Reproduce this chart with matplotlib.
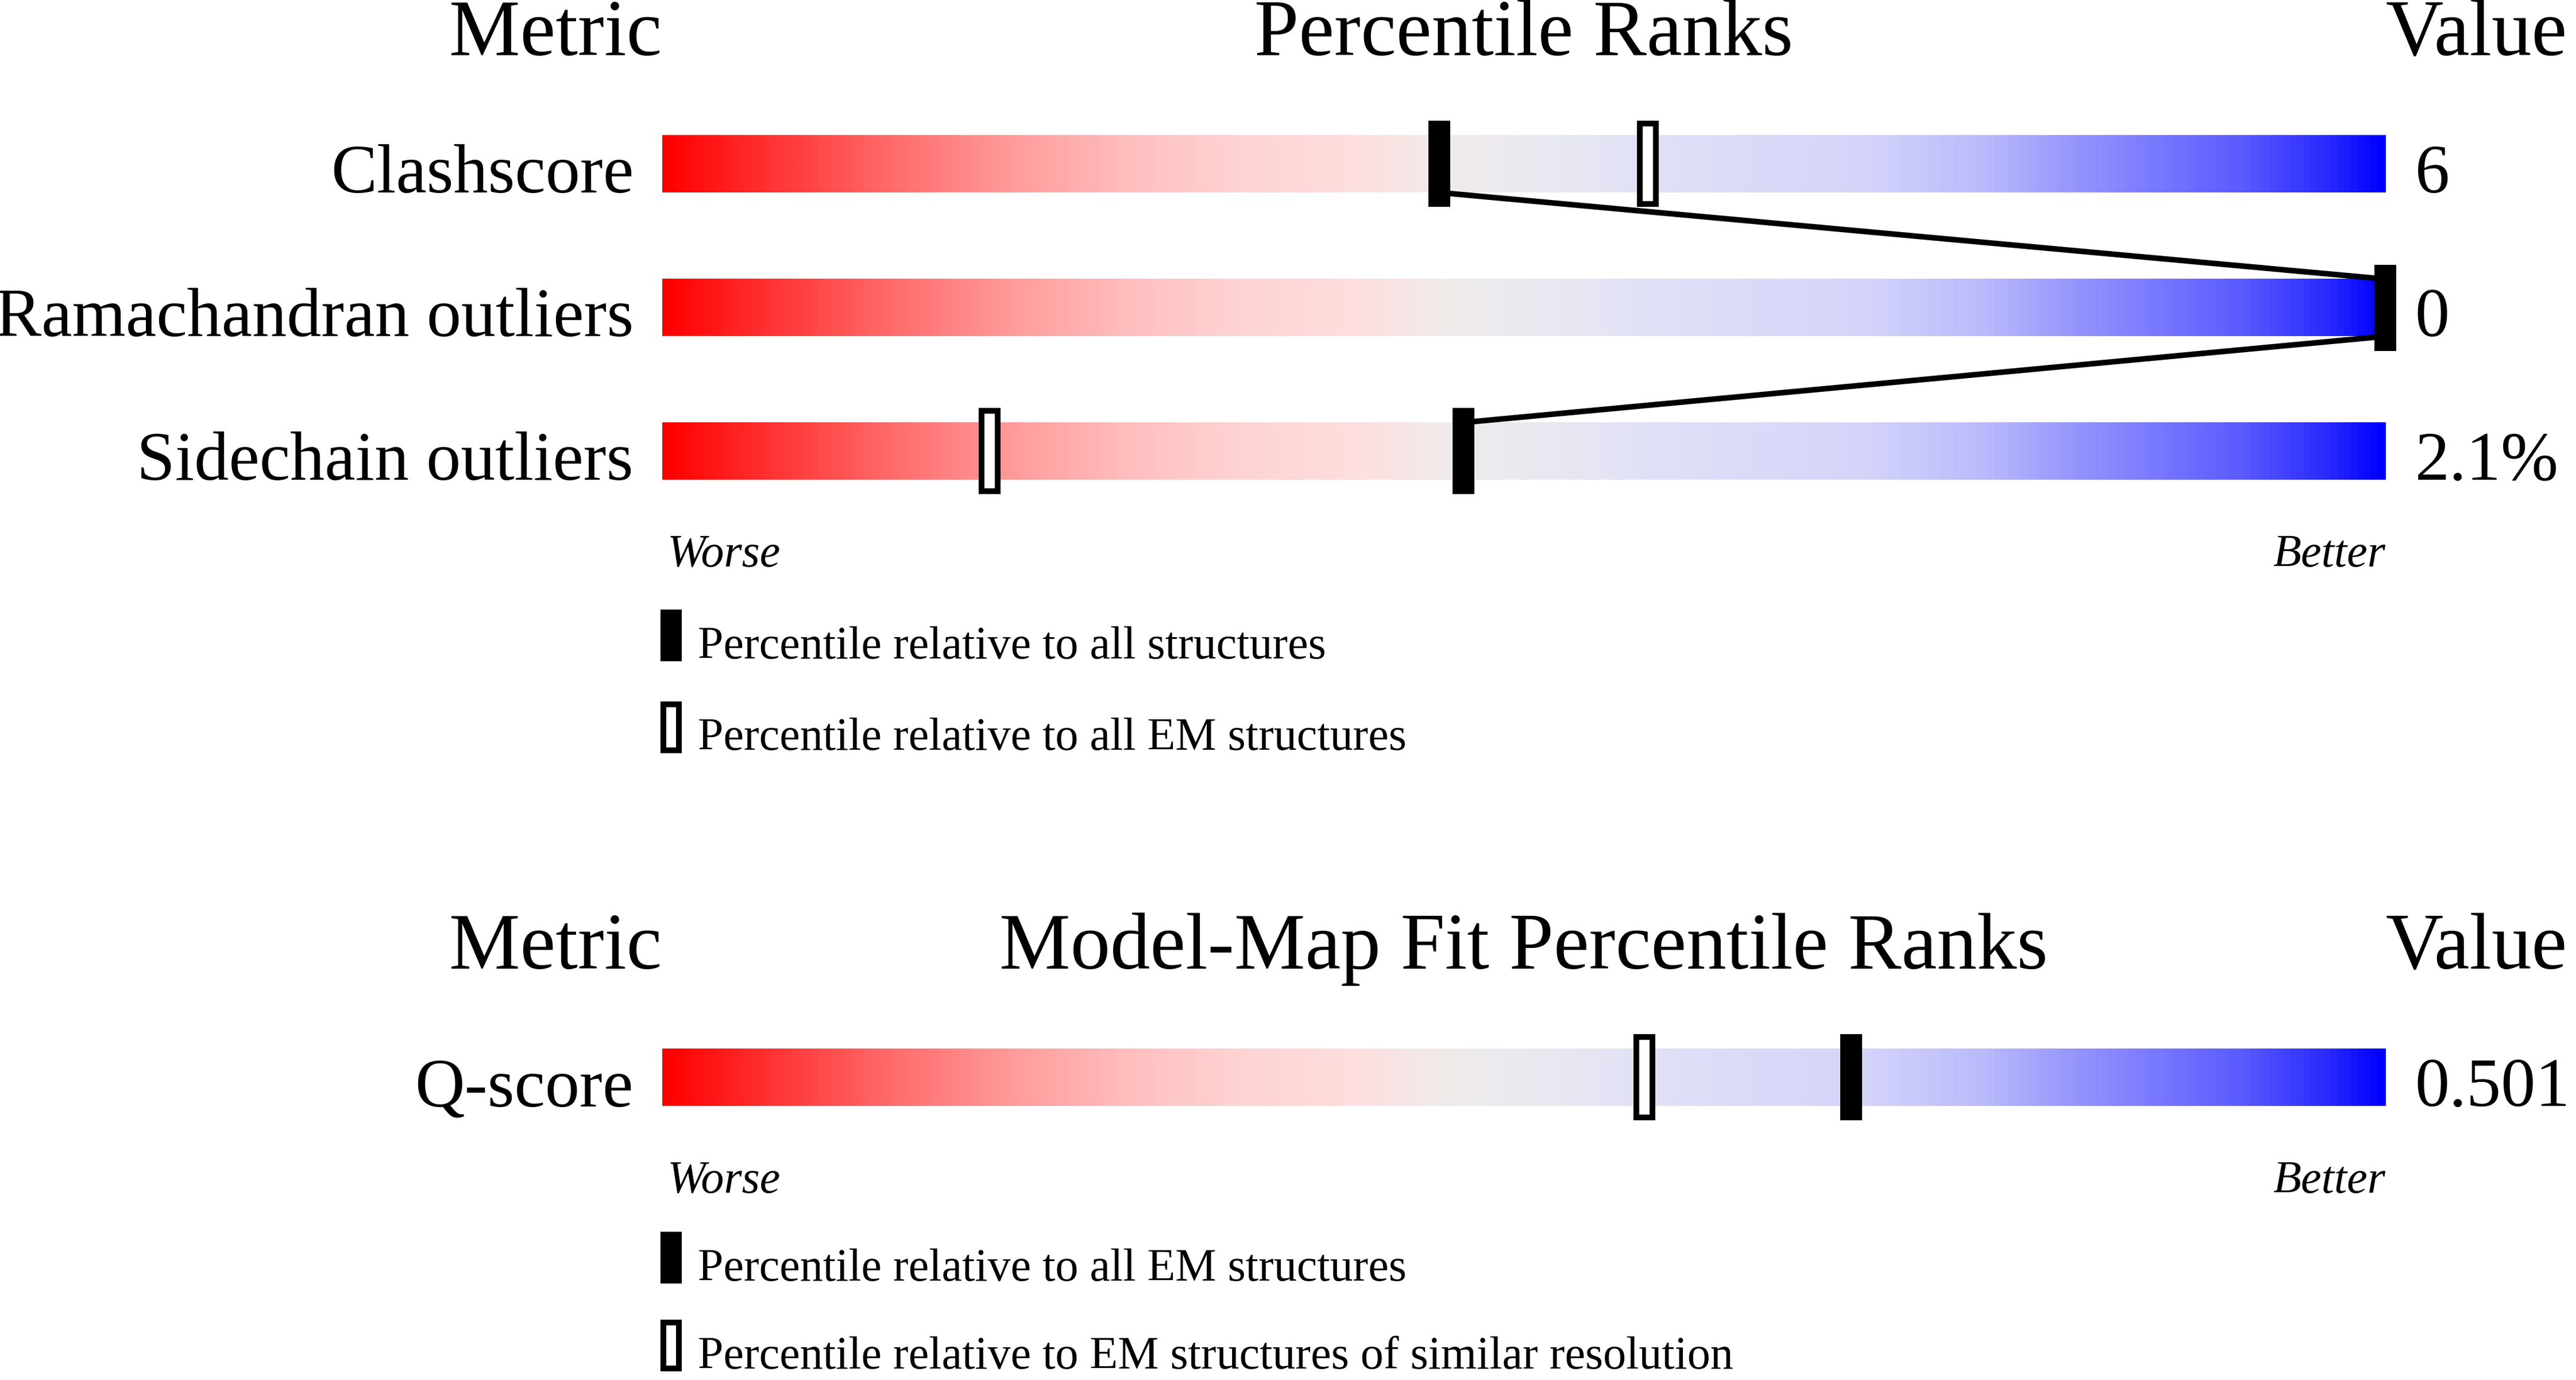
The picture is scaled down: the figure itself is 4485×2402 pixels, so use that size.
import numpy as np
import matplotlib
matplotlib.use("Agg")
import matplotlib.pyplot as plt
from matplotlib.colors import LinearSegmentedColormap
from matplotlib.patches import Rectangle

plt.rcParams["font.family"] = ["Liberation Serif", "DejaVu Serif"]

# data
metrics = ["Clashscore", "Ramachandran outliers", "Sidechain outliers"]
metric_values = ["6", "0", "2.1%"]
pct_all = [45.1, 100.0, 46.5]
pct_em = [57.2, np.nan, 19.0]

fit_metrics = ["Q-score"]
fit_values = ["0.501"]
fit_pct_em = [69.0]
fit_pct_res = [57.0]

legend_top = ["Percentile relative to all structures",
              "Percentile relative to all EM structures"]
legend_bottom = ["Percentile relative to all EM structures",
                 "Percentile relative to EM structures of similar resolution"]

# gradient stops (position, rgb)
stops = [(0.00, (255, 0, 0)), (0.06, (255, 50, 50)), (0.135, (255, 110, 110)),
         (0.21, (255, 160, 160)), (0.27, (255, 190, 190)), (0.33, (255, 210, 210)),
         (0.40, (254, 222, 222)), (0.46, (240, 236, 236)), (0.52, (232, 232, 242)),
         (0.58, (224, 224, 248)), (0.70, (212, 212, 250)), (0.77, (185, 185, 252)),
         (0.82, (150, 150, 253)), (0.87, (120, 120, 255)), (0.92, (90, 90, 255)),
         (0.97, (40, 40, 255)), (1.00, (0, 0, 255))]
cmap = LinearSegmentedColormap.from_list(
    "wwpdb", [(p, tuple(c / 255 for c in rgb)) for p, rgb in stops])

# layout: x in percentile units, y in picture rows (1568x840 grid)
W, H = 1568, 840
bar_l, bar_r = 403, 1452
ppu = (bar_r - bar_l) / 100.0
S = 4485 / W            # output px per layout px
pt = S * 0.72           # layout px -> points at dpi 100

fig = plt.figure(figsize=(44.85, 24.02), dpi=100)
ax = fig.add_axes([0, 0, 1, 1])
ax.set_xlim(-bar_l / ppu, (W - bar_l) / ppu)
ax.set_ylim(H, 0)
ax.axis("off")

grad = np.linspace(0, 1, 512).reshape(1, -1)
bar_h = 34.8
mk_w = 13.3 / ppu
mk_h = 52.4
edge_px = 3.5
title_fs = 48.6 * pt
label_fs = 42 * pt
small_fs = 28 * pt


def draw_bar(yc):
    ax.imshow(grad, cmap=cmap, aspect="auto", interpolation="bicubic",
              extent=[0, 100, yc + bar_h / 2, yc - bar_h / 2], zorder=1)


def filled_marker(x, yc, z=4):
    ax.add_patch(Rectangle((x - mk_w / 2, yc - mk_h / 2), mk_w, mk_h,
                           facecolor="black", edgecolor="none", zorder=z))


def open_marker(x, yc, z=3):
    w = mk_w - edge_px / ppu
    h = mk_h - edge_px
    ax.add_patch(Rectangle((x - w / 2, yc - h / 2), w, h, facecolor="white",
                           edgecolor="black", linewidth=edge_px * pt, zorder=z))


def header(y_base, center_title):
    ax.text(0, y_base, "Metric", ha="right", va="baseline", fontsize=title_fs)
    ax.text(50, y_base, center_title, ha="center", va="baseline", fontsize=title_fs)
    ax.text(100, y_base, "Value", ha="left", va="baseline", fontsize=title_fs)


def footer(y_base, labels, gap=55.9):
    ax.text(0.3, y_base, "Worse", ha="left", va="baseline", fontsize=small_fs, style="italic")
    ax.text(100, y_base, "Better", ha="right", va="baseline", fontsize=small_fs, style="italic")
    for i, lab in enumerate(labels):
        yb = y_base + gap * (i + 1)
        x0 = -0.1
        w = 13 / ppu
        if i == 0:
            ax.add_patch(Rectangle((x0, yb - 29.6), w, 31.6, facecolor="black",
                                   edgecolor="none", zorder=4))
        else:
            ax.add_patch(Rectangle((x0 + edge_px / 2 / ppu, yb - 29.6 + edge_px / 2),
                                   w - edge_px / ppu, 31.6 - edge_px, facecolor="white",
                                   edgecolor="black", linewidth=edge_px * pt, zorder=4))
        ax.text(2.08, yb, lab, ha="left", va="baseline", fontsize=small_fs)


# ---- top section
row_y = [99.8, 187.3, 274.6]
header(33.7, "Percentile Ranks")
for i, name in enumerate(metrics):
    yc = row_y[i]
    draw_bar(yc)
    ax.text(-17.4 / ppu, yc + bar_h / 2, name, ha="right", va="baseline", fontsize=label_fs)
    ax.text(100 + 18 / ppu, yc + bar_h / 2, metric_values[i], ha="left", va="baseline",
            fontsize=label_fs)
    if not np.isnan(pct_em[i]):
        open_marker(pct_em[i], yc)
    filled_marker(pct_all[i], yc)

for i in range(len(metrics) - 1):
    ax.plot([pct_all[i], pct_all[i + 1]],
            [row_y[i] + bar_h / 2, row_y[i + 1] - bar_h / 2],
            color="black", linewidth=3.4 * pt, solid_capstyle="butt", zorder=2)

footer(row_y[-1] + bar_h / 2 + 52.7, legend_top)

# ---- bottom section
fit_y = [655.8]
header(589.7, "Model-Map Fit Percentile Ranks")
for i, name in enumerate(fit_metrics):
    yc = fit_y[i]
    draw_bar(yc)
    ax.text(-17.4 / ppu, yc + bar_h / 2, name, ha="right", va="baseline", fontsize=label_fs)
    ax.text(100 + 18 / ppu, yc + bar_h / 2, fit_values[i], ha="left", va="baseline",
            fontsize=label_fs)
    open_marker(fit_pct_res[i], yc)
    filled_marker(fit_pct_em[i], yc)

# slightly tighter gap so the last legend line stays inside the figure
footer(fit_y[-1] + bar_h / 2 + 52.7, legend_bottom, gap=53.5)

fig.savefig("out.png", dpi=100, facecolor="white")
